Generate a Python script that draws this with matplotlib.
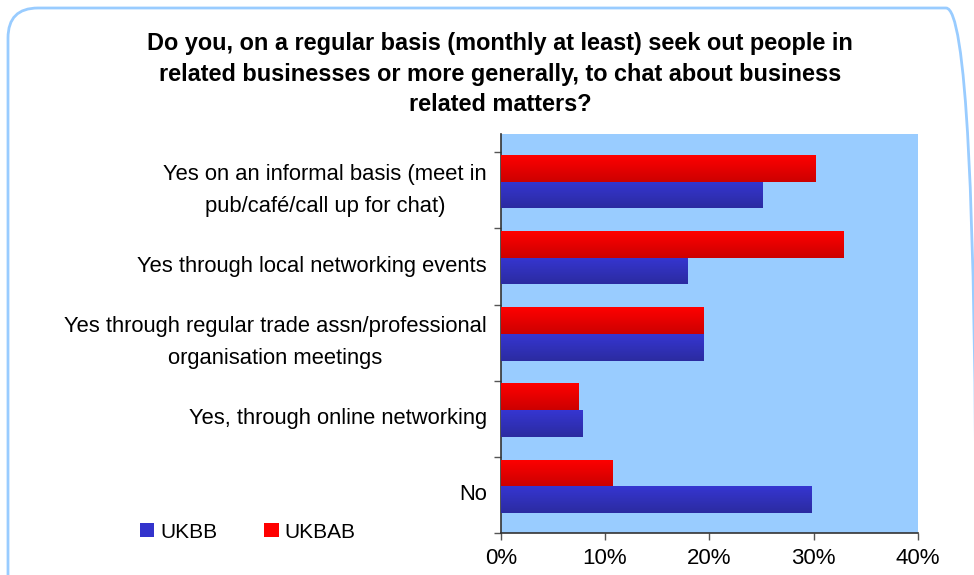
import numpy as np
import matplotlib
matplotlib.use('Agg')
import matplotlib.pyplot as plt
from matplotlib.patches import FancyBboxPatch, Patch
from matplotlib.ticker import FuncFormatter, FixedLocator
from matplotlib.transforms import IdentityTransform

plt.rcParams['font.family'] = 'Liberation Sans'

title = ("Do you, on a regular basis (monthly at least) seek out people in\n"
         "related businesses or more generally, to chat about business\n"
         "related matters?")

categories = ["Yes on an informal basis (meet in\npub/café/call up for chat)",
              "Yes through local networking events",
              "Yes through regular trade assn/professional\norganisation meetings",
              "Yes, through online networking",
              "No"]
ukbab = [30.1, 32.8, 19.4, 7.4, 10.7]
ukbb = [25.1, 17.9, 19.4, 7.8, 29.8]
xticks = [0, 10, 20, 30, 40]

fig = plt.figure(figsize=(9.74, 5.75), dpi=100)

# rounded outline round the whole chart (pixel coords, runs off the bottom/right)
box = FancyBboxPatch((8, -30), 968, 567 + 30,
                     boxstyle="round,pad=0,rounding_size=30",
                     transform=IdentityTransform(), fill=False,
                     edgecolor='#99ccff', linewidth=2)
fig.patches.append(box)

ax = fig.add_axes([500.7 / 974, 42 / 575, 417.3 / 974, 399 / 575])
ax.set_facecolor('#99ccff')

pos = np.arange(len(categories))
h = 0.35
bars_r = ax.barh(pos + 0.035 + h / 2, ukbab, height=h, color='#ee0000', label='UKBAB', zorder=2)
bars_b = ax.barh(pos + 0.035 + 1.5 * h, ukbb, height=h, color='#3030c4', label='UKBB', zorder=2)

# vertical shading on each bar
def shade(bars, top, bottom):
    grad = np.linspace(0, 1, 64)[:, None]
    c = np.array(top)[None, :] * (1 - grad) + np.array(bottom)[None, :] * grad
    img = c[:, None, :]
    for b in bars:
        x0, y0, w, hh = b.get_x(), b.get_y(), b.get_width(), b.get_height()
        im = ax.imshow(img, extent=(x0, x0 + w, y0 + hh, y0), aspect='auto',
                       zorder=3, interpolation='bilinear')
        im.set_clip_path(b)

shade(bars_r, (1.0, 0.0, 0.0), (0.80, 0.0, 0.0))
shade(bars_b, (0.21, 0.21, 0.82), (0.17, 0.17, 0.63))

ax.set_xlim(0, 40)
ax.set_ylim(5, -0.24)

ax.set_xticks(xticks)
ax.xaxis.set_major_formatter(FuncFormatter(lambda v, p: '%d%%' % v))
ax.tick_params(axis='x', direction='out', length=5, width=1, color='#555555',
               labelsize=16, pad=6)

ax.yaxis.set_major_locator(FixedLocator(pos + 0.5))
ax.set_yticklabels(categories, fontsize=15.8, multialignment='center',
                   linespacing=1.65, va='center')
ax.yaxis.set_minor_locator(FixedLocator(np.arange(0, 6)))
ax.tick_params(axis='y', which='major', length=0, pad=10)
ax.tick_params(axis='y', which='minor', direction='out', length=5, width=1, color='#555555')

for s in ['top', 'right']:
    ax.spines[s].set_visible(False)
for s in ['left', 'bottom']:
    ax.spines[s].set_color('#333333')
    ax.spines[s].set_linewidth(1.2)

fig.text(500 / 974, 1 - 74 / 575, title, ha='center', va='center',
         fontsize=16.9, fontweight='bold', linespacing=1.4)

handles = [Patch(facecolor='#3333cc', label='UKBB'), Patch(facecolor='#ff0000', label='UKBAB')]
fig.legend(handles=handles, loc='center left', bbox_to_anchor=(140 / 974, 1 - 532 / 575),
           ncol=2, frameon=False, fontsize=15, handlelength=0.68, handleheight=0.68,
           handletextpad=0.3, columnspacing=2.25, borderpad=0, borderaxespad=0)

fig.savefig('out.png', dpi=100)
